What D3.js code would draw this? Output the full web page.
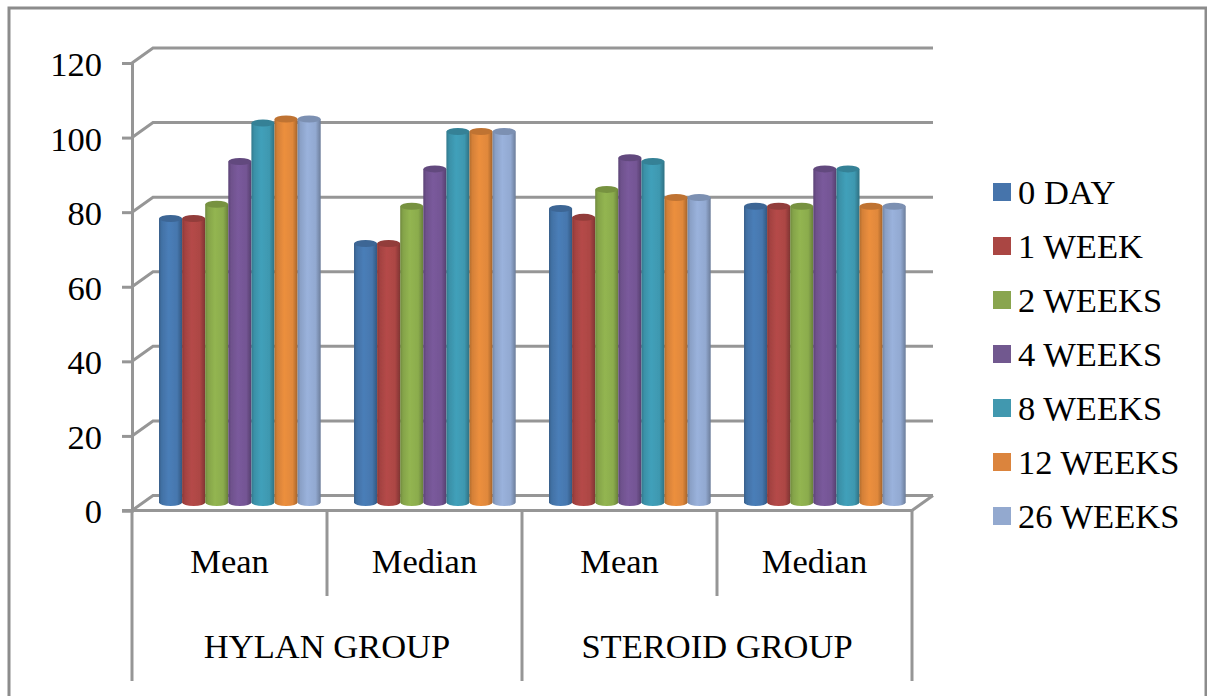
<!DOCTYPE html>
<html>
<head>
<meta charset="utf-8">
<script src="https://cdn.jsdelivr.net/npm/d3@7"></script>
<style>
  html, body { margin: 0; padding: 0; background: #fff; }
  svg { display: block; }
  text { font-family: "Liberation Serif", serif; fill: #000; }
</style>
</head>
<body>
<svg id="chart" width="1207" height="696"></svg>
<script>
const groups = ['HYLAN GROUP', 'STEROID GROUP'];
const categories = ['Mean', 'Median', 'Mean', 'Median'];
const seriesNames = ['0 DAY', '1 WEEK', '2 WEEKS', '4 WEEKS', '8 WEEKS', '12 WEEKS', '26 WEEKS'];
const seriesColors = ['#4a7eb8', '#b54a48', '#93b551', '#7a5a9c', '#41a0ba', '#ec8f3e', '#9ab2dc'];
const legendColors = ['#4674ab', '#aa4643', '#89a54e', '#71588f', '#4198af', '#db843d', '#93a9cf'];
const yTicks = [0, 20, 40, 60, 80, 100, 120];

const day0 = [76.7, 70, 79.4, 80];
const week1 = [76.7, 70, 77, 80];
const week2 = [80.5, 80, 84.5, 80];
const week4 = [92, 90, 93, 90];
const week8 = [102.3, 100, 92, 90];
const week12 = [103.4, 100, 82.3, 80];
const week26 = [103.4, 100, 82.3, 80];
const seriesValues = [day0, week1, week2, week4, week8, week12, week26];

const plot = { left: 132, right: 912, top: 63, bottom: 510.5 };
const depth = { x: 21, y: 15 };
const axisColor = '#969696';
const fontSize = 34.5;

const svg = d3.select('#chart');

// page frame, bottom edge runs off the picture
svg.append('rect')
  .attr('x', 9).attr('y', 8)
  .attr('width', 1197).attr('height', 710)
  .attr('fill', 'none').attr('stroke', '#8c8c8c').attr('stroke-width', 3);

const y = d3.scaleLinear().domain([0, 120]).range([plot.bottom, plot.top]);

const x0 = d3.scaleBand()
  .domain(d3.range(categories.length))
  .range([plot.left, plot.right]);

const x1 = d3.scaleBand()
  .domain(d3.range(seriesNames.length))
  .range([27, 27 + 161.7]);

// back wall gridlines and the slanted bits going to the front axis
const wall = svg.append('g')
  .attr('fill', 'none').attr('stroke', axisColor).attr('stroke-width', 3);

wall.selectAll('path').data(yTicks).enter().append('path')
  .attr('d', d => `M${plot.left},${y(d)}L${plot.left + depth.x},${y(d) - depth.y}L${plot.right + depth.x},${y(d) - depth.y}`);

wall.append('line')
  .attr('x1', plot.right).attr('y1', plot.bottom)
  .attr('x2', plot.right + depth.x).attr('y2', plot.bottom - depth.y);

// cylinder shading
const defs = svg.append('defs');
seriesColors.forEach((c, i) => {
  const g = defs.append('linearGradient').attr('id', 'cyl' + i);
  g.append('stop').attr('offset', '0%').attr('stop-color', d3.rgb(c).darker(0.8));
  g.append('stop').attr('offset', '12%').attr('stop-color', d3.rgb(c).darker(0.3));
  g.append('stop').attr('offset', '42%').attr('stop-color', c);
  g.append('stop').attr('offset', '78%').attr('stop-color', d3.rgb(c).darker(0.15));
  g.append('stop').attr('offset', '100%').attr('stop-color', d3.rgb(c).darker(1));
});
defs.append('filter').attr('id', 'soft')
  .append('feGaussianBlur').attr('stdDeviation', 0.45);

const bars = svg.append('g').attr('filter', 'url(#soft)');
const ry = 3.5;
const barBase = plot.bottom - 8;
const topLift = 6;

seriesValues.forEach((values, s) => {
  const w = x1.bandwidth();
  const series = bars.append('g');
  values.forEach((v, c) => {
    const left = x0(c) + x1(s);
    const top = y(v) - topLift;
    series.append('path')
      .attr('d', `M${left},${top}L${left},${barBase}A${w / 2},${ry} 0 0 0 ${left + w},${barBase}L${left + w},${top}Z`)
      .attr('fill', `url(#cyl${s})`);
    series.append('ellipse')
      .attr('cx', left + w / 2).attr('cy', top)
      .attr('rx', w / 2).attr('ry', ry)
      .attr('fill', d3.rgb(seriesColors[s]).darker(0.6));
  });
});

// y axis
const yAxis = d3.axisLeft(y).tickValues(yTicks).tickSize(10).tickPadding(20);
const yG = svg.append('g')
  .attr('transform', `translate(${plot.left},0)`)
  .call(yAxis);
yG.selectAll('path, line').attr('stroke', axisColor).attr('stroke-width', 3);
yG.selectAll('text')
  .attr('font-size', fontSize)
  .attr('font-family', '"Liberation Serif", serif')
  .attr('dy', '0.36em');

// x axis base line and the two levels of separators
const xAxis = svg.append('g').attr('stroke', axisColor).attr('stroke-width', 3);
xAxis.append('line')
  .attr('x1', plot.left - 10).attr('x2', plot.right)
  .attr('y1', plot.bottom).attr('y2', plot.bottom);

d3.range(categories.length + 1).forEach(i => {
  const xp = i < categories.length ? x0(i) : plot.right;
  xAxis.append('line')
    .attr('x1', xp).attr('x2', xp)
    .attr('y1', plot.bottom)
    .attr('y2', i % 2 === 0 ? 681 : 596);
});

svg.append('g').selectAll('text').data(categories).enter().append('text')
  .attr('x', (d, i) => x0(i) + x0.bandwidth() / 2)
  .attr('y', 573)
  .attr('text-anchor', 'middle')
  .attr('font-size', fontSize)
  .text(d => d);

svg.append('g').selectAll('text').data(groups).enter().append('text')
  .attr('x', (d, i) => x0(i * 2) + x0.bandwidth())
  .attr('y', 658)
  .attr('text-anchor', 'middle')
  .attr('font-size', fontSize)
  .text(d => d);

// legend
const legend = svg.append('g').selectAll('g').data(seriesNames).enter().append('g')
  .attr('transform', (d, i) => `translate(993,${183 + i * 54})`);

legend.append('rect')
  .attr('width', 18).attr('height', 18)
  .attr('fill', (d, i) => legendColors[i]);

legend.append('text')
  .attr('x', 25).attr('y', 21)
  .attr('font-size', fontSize)
  .text(d => d);
</script>
</body>
</html>
